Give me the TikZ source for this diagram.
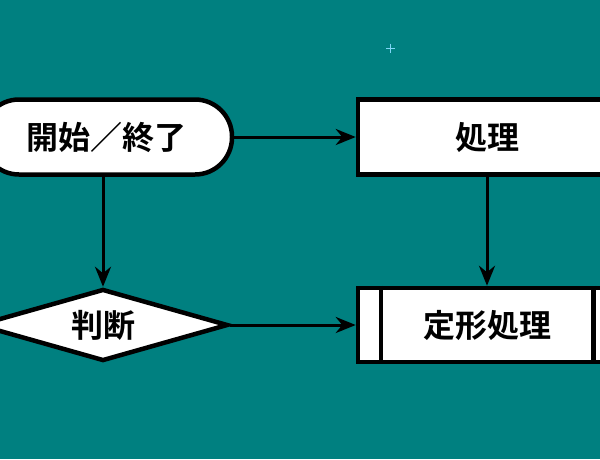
\documentclass[tikz,border=0pt]{standalone}
\usepackage{fontspec}
\setmainfont{Noto Sans CJK JP Bold}
\usetikzlibrary{shapes.geometric,arrows.meta}
\definecolor{bg}{HTML}{008080}
\begin{document}
\begin{tikzpicture}[x=1pt,y=-1pt,
  box/.style={draw=black,fill=white,line width=4.5pt,font=\fontsize{32}{34}\selectfont,inner sep=0pt},
  conn/.style={draw=black,line width=3pt,-{Stealth[length=20pt,width=16pt]}}]
\fill[bg] (0,0) rectangle (600,459);
\useasboundingbox (0,0) rectangle (600,459);
\draw[cyan!50!white,line width=0.6pt] (386,48)--(395,48) (390.5,43.5)--(390.5,52.5);
\node[box,rounded corners=37pt,minimum width=250pt,minimum height=75pt] (t) at (107,137) {開始／終了};
\node[box,minimum width=258pt,minimum height=75pt] (p) at (487,137) {処理};
\node[box,diamond,aspect=3.5,minimum width=250pt,minimum height=72pt] (d) at (103,325) {};
\node[font=\fontsize{32}{34}\selectfont] at (103,325) {判断};
\node[box,minimum width=258pt,minimum height=74pt] (s) at (487,325) {定形処理};
\draw[line width=4.5pt] ([xshift=25pt]s.north west)--([xshift=25pt]s.south west)
  ([xshift=-25pt]s.north east)--([xshift=-25pt]s.south east);
\draw[conn] (t.east)--(p.west);
\draw[conn] (t.south -| d.north)--(d.north);
\draw[conn] (p.south)--(s.north);
\draw[conn] (d.east)--(s.west);
\end{tikzpicture}
\end{document}
